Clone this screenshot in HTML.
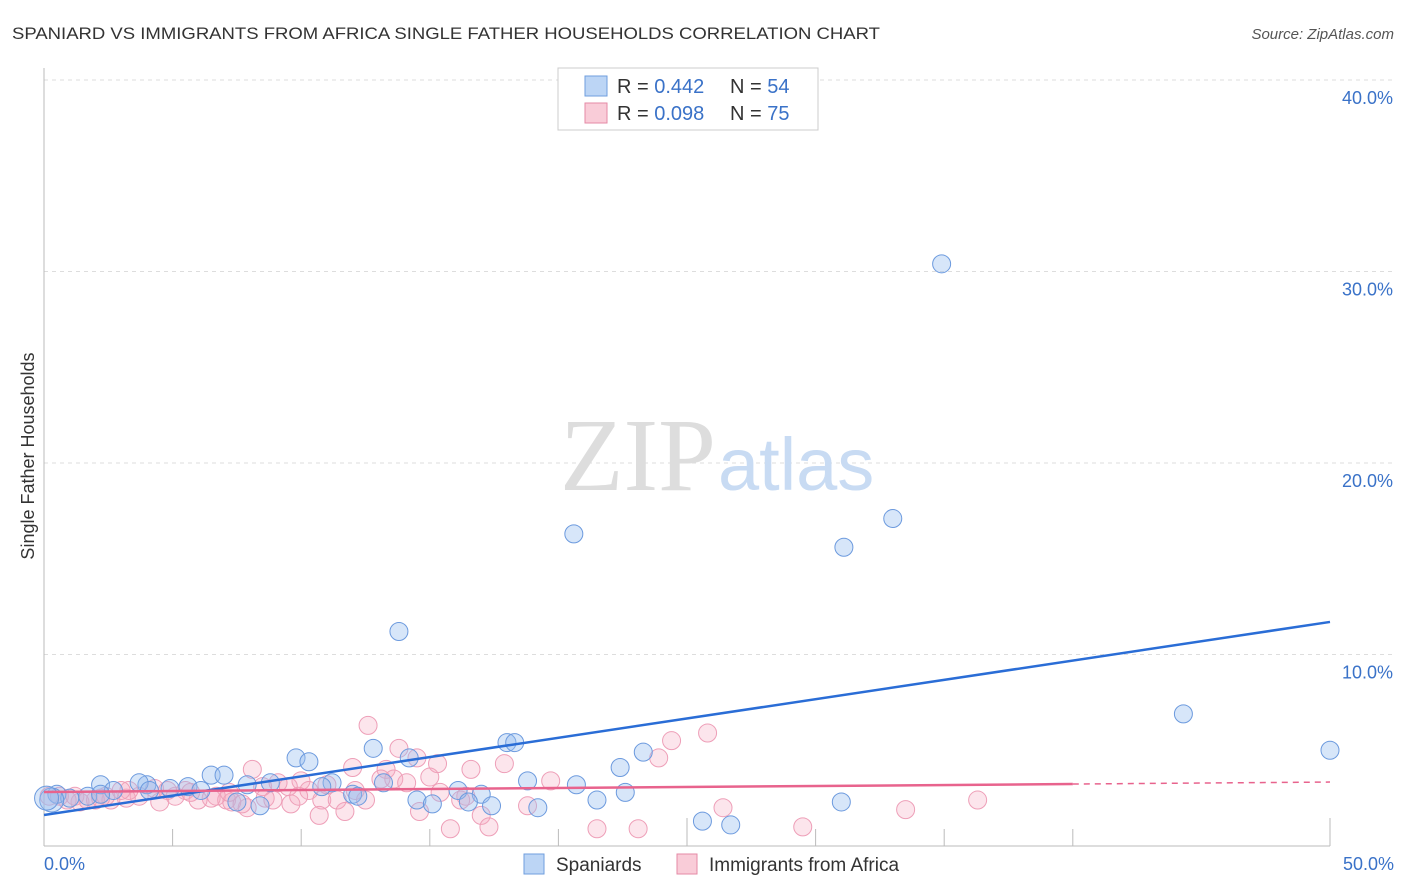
<!DOCTYPE html>
<html><head><meta charset="utf-8"><style>
body{margin:0;background:#fff;font-family:"Liberation Sans",sans-serif;}
#wrap{position:relative;width:1406px;height:892px;overflow:hidden;}
</style></head><body>
<div id="wrap">
<svg id="svg" width="1406" height="892" xmlns="http://www.w3.org/2000/svg">
<text x="12" y="39" font-size="17" fill="#333" textLength="868" lengthAdjust="spacingAndGlyphs">SPANIARD VS IMMIGRANTS FROM AFRICA SINGLE FATHER HOUSEHOLDS CORRELATION CHART</text>
<text x="1394" y="39" font-size="15" fill="#555" font-style="italic" text-anchor="end">Source: ZipAtlas.com</text>
<text x="34" y="456" font-size="18" fill="#333" text-anchor="middle" transform="rotate(-90 34 456)">Single Father Households</text>
<g id="grid"></g>
<text x="716" y="490" font-size="104" fill="#ddd" font-family="Liberation Serif,serif" text-anchor="end">ZIP</text>
<text x="718" y="490" font-size="74" fill="#c8dbf3">atlas</text>
<g id="pts"></g>
<g id="lines"></g>
<g>
<rect x="558" y="68" width="260" height="62" fill="#fff" stroke="#ccc"/>
<rect x="585" y="76" width="22" height="20" fill="#bcd5f5" stroke="#6f9ede"/>
<rect x="585" y="103" width="22" height="20" fill="#f9ccd8" stroke="#e58aa6"/>
<text x="617" y="93" font-size="20" fill="#333">R = <tspan fill="#3a72c8">0.442</tspan></text>
<text x="730" y="93" font-size="20" fill="#333">N = <tspan fill="#3a72c8">54</tspan></text>
<text x="617" y="120" font-size="20" fill="#333">R = <tspan fill="#3a72c8">0.098</tspan></text>
<text x="730" y="120" font-size="20" fill="#333">N = <tspan fill="#3a72c8">75</tspan></text>
</g>
<g>
<rect x="524" y="854" width="20" height="20" fill="#bcd5f5" stroke="#6f9ede"/>
<text x="556" y="871" font-size="19" fill="#333">Spaniards</text>
<rect x="677" y="854" width="20" height="20" fill="#f9ccd8" stroke="#e58aa6"/>
<text x="709" y="871" font-size="19" fill="#333">Immigrants from Africa</text>
</g>
<text x="44" y="870" font-size="18" fill="#3a72c8">0.0%</text>
<text x="1394" y="870" font-size="18" fill="#3a72c8" text-anchor="end">50.0%</text>
</svg>
</div>
<script>
const yTicks=[10,20,30,40];
const yTickLabels=["10.0%","20.0%","30.0%","40.0%"];
const spaniardsX=[34.9,20.6,33.0,31.1,13.8,44.3,50.0,18.0,18.3,23.3,22.4,12.8,14.2,9.8,10.3,6.5,7.0,18.8,20.7,22.6,16.1,17.0,13.2,11.2,10.8,8.8,7.9,5.6,4.9,4.0,3.7,2.2,2.7,0.5,1.0,1.7,2.2,4.1,6.1,7.5,8.4,12.0,12.2,14.5,15.1,16.5,17.4,19.2,21.5,25.6,26.7,31.0,0.3,0.1];
const spaniardsY=[30.4,16.3,17.1,15.6,11.2,6.9,5.0,5.4,5.4,4.9,4.1,5.1,4.6,4.6,4.4,3.7,3.7,3.4,3.2,2.8,2.9,2.7,3.3,3.3,3.1,3.3,3.2,3.1,3.0,3.2,3.3,3.2,2.9,2.7,2.5,2.6,2.7,2.9,2.9,2.3,2.1,2.7,2.6,2.4,2.2,2.3,2.1,2.0,2.4,1.3,1.1,2.3,2.4,2.5];
const africaX=[12.6,25.8,24.4,13.8,8.1,9.99,12.0,13.3,14.5,15.3,16.6,17.9,19.7,23.9,15.0,13.6,14.1,13.1,9.5,8.5,8.6,10.3,10.8,11.4,11.7,10.7,12.5,9.6,7.9,7.1,6.5,5.99,5.5,4.5,3.7,3.2,2.6,2.0,1.4,0.9,0.6,0.2,1.2,3.3,5.1,15.4,16.4,17.0,17.3,15.8,18.8,21.5,23.1,26.4,29.5,33.5,36.3,7.3,7.7,6.7,9.1,4.3,5.7,2.4,1.7,2.2,14.6,12.1,9.9,11.0,8.9,7.2,4.8,16.2,3.0];
const africaY=[6.3,5.9,5.5,5.1,4.0,3.4,4.1,4.0,4.6,4.3,4.0,4.3,3.4,4.6,3.6,3.5,3.3,3.5,3.1,3.1,2.5,2.9,2.4,2.4,1.8,1.6,2.4,2.2,2.0,2.4,2.5,2.4,2.9,2.3,2.6,2.5,2.4,2.4,2.3,2.4,2.6,2.6,2.6,2.9,2.6,2.8,2.6,1.6,1.0,0.9,2.1,0.9,0.9,2.0,1.0,1.9,2.4,2.3,2.2,2.6,3.3,3.0,2.8,2.6,2.4,2.5,1.8,2.9,2.6,3.2,2.4,2.8,2.9,2.4,2.9];
const trendBlue=[1.62,11.7];
const trendPink=[2.82,3.34];
const xS=v=>44+v*25.72, yS=v=>846-v*19.15;
const NS="http://www.w3.org/2000/svg";
function mk(tag,attrs,parent){const e=document.createElementNS(NS,tag);for(const k in attrs)e.setAttribute(k,attrs[k]);parent.appendChild(e);return e;}
const grid=document.getElementById('grid');
yTicks.forEach((t,i)=>{
 const l=mk('line',{x1:44,x2:1394,y1:yS(t),y2:yS(t),stroke:'#ddd','stroke-dasharray':'4,4'},grid);
 
 
 const tx=mk('text',{x:1393,y:yS(t)+24,'font-size':18,fill:'#3a72c8','text-anchor':'end'},grid);
 tx.textContent=yTickLabels[i];
 
 
});
const ax=mk('line',{x1:44,x2:44,y1:68,y2:846,stroke:'#bbb'},grid);


const bx=mk('line',{x1:44,x2:1330,y1:846,y2:846,stroke:'#bbb'},grid);


for(let k=1;k<=10;k++){
 if(k===9)continue;
 const tall=(k===5||k===10);
 const t=mk('line',{x1:xS(k*5),x2:xS(k*5),y1:tall?818:829,y2:846,stroke:'#bbb'},grid);
 
 
}
const pts=document.getElementById('pts');
africaX.forEach((x,i)=>{
 const c=mk('circle',{cx:xS(x),cy:yS(africaY[i]),r:9,fill:'rgba(246,170,192,0.3)',stroke:'#ee9fb8','stroke-width':1},pts);
 
 
});
spaniardsX.forEach((x,i)=>{
 const c=mk('circle',{cx:xS(x),cy:yS(spaniardsY[i]),r:(i>=52?12:9),fill:'rgba(150,190,240,0.38)',stroke:'#6c9ade','stroke-width':1},pts);
 
 
});
const lines=document.getElementById('lines');
const lb=mk('line',{x1:xS(0),y1:yS(trendBlue[0]),x2:xS(50),y2:yS(trendBlue[1]),stroke:'#2a6dd6','stroke-width':2.5},lines);


const xe=40;
const pm=trendPink[0]+(trendPink[1]-trendPink[0])*xe/50;
const lp=mk('line',{x1:xS(0),y1:yS(trendPink[0]),x2:xS(xe),y2:yS(pm),stroke:'#e8638d','stroke-width':2.5},lines);


const lpd=mk('line',{x1:xS(xe),y1:yS(pm),x2:xS(50),y2:yS(trendPink[1]),stroke:'#e8638d','stroke-width':1.5,'stroke-dasharray':'6,5'},lines);


</script>
</body></html>
